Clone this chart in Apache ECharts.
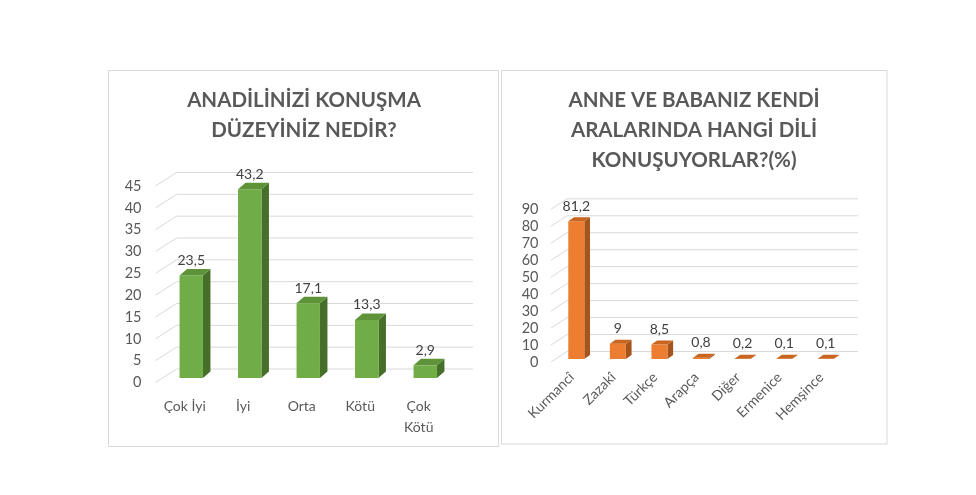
<!DOCTYPE html>
<html>

<head>
    <meta charset="UTF-8">
    <title>ECharts</title>
    <script type="text/javascript" src="https://cdn.jsdelivr.net/npm/echarts@6/dist/echarts.min.js"></script>
    <style>
        body { margin: 0; background: #fff; }
    </style>
</head>

<body>
    <div id="main" style="width:976px;height:495px;"></div>
    <script type="text/javascript">
        // sol grafik
        var leftCats = ['Çok İyi', 'İyi', 'Orta', 'Kötü', 'Çok Kötü'];
        var leftValues = [23.5, 43.2, 17.1, 13.3, 2.9];
        var leftTicks = [0, 5, 10, 15, 20, 25, 30, 35, 40, 45];
        // sag grafik
        var rightCats = ['Kurmancî', 'Zazakî', 'Türkçe', 'Arapça', 'Diğer', 'Ermenice', 'Hemşince'];
        var rightValues = [81.2, 9, 8.5, 0.8, 0.2, 0.1, 0.1];
        var rightTicks = [0, 10, 20, 30, 40, 50, 60, 70, 80, 90];

        var FONT = 'Lato';
        var myChart = echarts.init(document.getElementById('main'));

        // arka duvar cizgileri (3B gorunum)
        function wallRenderer(dx, dy, extra) {
            return function (params, api) {
                var cs = params.coordSys;
                var y = api.coord([0, api.value(1)])[1];
                return {
                    type: 'polyline',
                    shape: {
                        points: [[cs.x, y], [cs.x + dx, y + dy], [cs.x + cs.width + dx + extra, y + dy]]
                    },
                    style: { stroke: '#d9d9d9', lineWidth: 1, fill: null },
                    silent: true
                };
            };
        }

        // 3B sutun
        function barRenderer(opt) {
            return function (params, api) {
                var v = api.value(1);
                var base = api.coord([api.value(0), 0]);
                var top = api.coord([api.value(0), v]);
                var w = api.size([1, 0])[0] * opt.ratio;
                var x0 = base[0] + opt.offX - w / 2;
                var yb = base[1] + opt.offY;
                var yt = top[1] + opt.offY;
                var dx = opt.dx, dy = opt.dy;
                return {
                    type: 'group',
                    children: [
                        {
                            type: 'polygon',
                            shape: { points: [[x0 + w, yt], [x0 + w + dx, yt + dy], [x0 + w + dx, yb + dy], [x0 + w, yb]] },
                            style: { fill: opt.side }
                        },
                        {
                            type: 'rect',
                            shape: { x: x0, y: yt, width: w, height: Math.max(yb - yt, 0) },
                            style: { fill: opt.front }
                        },
                        {
                            type: 'polygon',
                            shape: { points: [[x0, yt], [x0 + w, yt], [x0 + w + dx, yt + dy], [x0 + dx, yt + dy]] },
                            style: { fill: opt.top }
                        },
                        {
                            type: 'text',
                            x: x0 + w / 2,
                            y: yt - opt.labelGap,
                            style: {
                                text: String(v).replace('.', ','),
                                fill: '#404040',
                                font: '14px ' + FONT,
                                align: 'center',
                                verticalAlign: 'middle'
                            }
                        }
                    ]
                };
            };
        }

        function toPairs(arr) {
            return arr.map(function (v, i) { return [i, v]; });
        }

        myChart.setOption({
            backgroundColor: '#fff',
            animation: false,
            textStyle: { fontFamily: FONT },
            graphic: [
                {
                    type: 'rect', silent: true,
                    shape: { x: 108.5, y: 70.5, width: 390, height: 376 },
                    style: { fill: null, stroke: '#d9d9d9', lineWidth: 1 }
                },
                {
                    type: 'rect', silent: true,
                    shape: { x: 501.5, y: 70.5, width: 385.5, height: 373.5 },
                    style: { fill: null, stroke: '#d9d9d9', lineWidth: 1 }
                }
            ],
            title: [
                {
                    text: 'ANADİLİNİZİ KONUŞMA\nDÜZEYİNİZ NEDİR?',
                    left: 304, top: 85, textAlign: 'center', padding: 0,
                    textStyle: { fontFamily: FONT, fontSize: 20.5, fontWeight: 'bold', color: '#595959', lineHeight: 30 }
                },
                {
                    text: 'ANNE VE BABANIZ KENDİ\nARALARINDA HANGİ DİLİ\nKONUŞUYORLAR?(%)',
                    left: 694, top: 85, textAlign: 'center', padding: 0,
                    textStyle: { fontFamily: FONT, fontSize: 20.5, fontWeight: 'bold', color: '#595959', lineHeight: 30 }
                }
            ],
            grid: [
                { left: 155.5, top: 186, width: 292.5, height: 196.5 },
                { left: 551, top: 209.3, width: 291, height: 152.7 }
            ],
            xAxis: [
                {
                    type: 'category', gridIndex: 0, data: leftCats,
                    axisLine: { show: false }, axisTick: { show: false },
                    axisLabel: {
                        color: '#595959', fontSize: 14, fontFamily: FONT, margin: 13, lineHeight: 21, interval: 0,
                        formatter: function (s) { return s.length > 7 ? s.replace(' ', '\n') : s; }
                    }
                },
                {
                    type: 'category', gridIndex: 1, data: rightCats,
                    axisLine: { show: false }, axisTick: { show: false },
                    axisLabel: { color: '#595959', fontSize: 14, fontFamily: FONT, margin: 13, rotate: 45, interval: 0 }
                }
            ],
            yAxis: [
                {
                    type: 'value', gridIndex: 0, min: 0, max: 45, interval: 5,
                    axisLine: { show: false }, axisTick: { show: false }, splitLine: { show: false },
                    axisLabel: { color: '#595959', fontSize: 14.5, fontFamily: FONT, margin: 14 }
                },
                {
                    type: 'value', gridIndex: 1, min: 0, max: 90, interval: 10,
                    axisLine: { show: false }, axisTick: { show: false }, splitLine: { show: false },
                    axisLabel: { color: '#595959', fontSize: 14.5, fontFamily: FONT, margin: 12.5 }
                }
            ],
            series: [
                {
                    type: 'custom', xAxisIndex: 0, yAxisIndex: 0, z: 1,
                    data: leftTicks.map(function (t) { return [0, t]; }),
                    renderItem: wallRenderer(21, -13.5, 4)
                },
                {
                    type: 'custom', xAxisIndex: 0, yAxisIndex: 0, z: 2,
                    data: toPairs(leftValues),
                    renderItem: barRenderer({
                        ratio: 0.4, offX: 6.5, offY: -4.5, dx: 7.5, dy: -6.5, labelGap: 15,
                        front: '#70ad47', top: '#5f9339', side: '#46702a'
                    })
                },
                {
                    type: 'custom', xAxisIndex: 1, yAxisIndex: 1, z: 1,
                    data: rightTicks.map(function (t) { return [0, t]; }),
                    renderItem: wallRenderer(16, -10.5, 0)
                },
                {
                    type: 'custom', xAxisIndex: 1, yAxisIndex: 1, z: 2,
                    data: toPairs(rightValues),
                    renderItem: barRenderer({
                        ratio: 0.385, offX: 4.5, offY: -3, dx: 5.7, dy: -4, labelGap: 15,
                        front: '#ed7d31', top: '#c9651f', side: '#a5541c'
                    })
                }
            ]
        });
    </script>

</body>
</html>
